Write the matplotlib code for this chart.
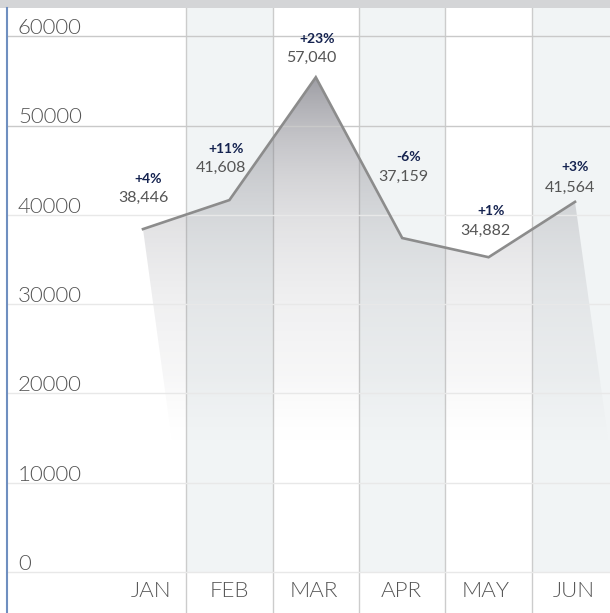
import numpy as np
import matplotlib.pyplot as plt
from matplotlib.patches import Polygon, Rectangle
from matplotlib.lines import Line2D

# datos
meses = ['JAN', 'FEB', 'MAR', 'APR', 'MAY', 'JUN']
valores_linea = [38400, 41650, 55400, 37400, 35250, 41450]
etiquetas_valor = [38446, 41608, 57040, 37159, 34882, 41564]
etiquetas_pct = ['+4%', '+11%', '+23%', '-6%', '+1%', '+3%']
marcas_y = [0, 10000, 20000, 30000, 40000, 50000, 60000]

# desplazamientos de las etiquetas en pixeles
desp_x = [0, -8, -4, 1, -3, -5]
desp_valor = [31, 32, 19, 61, 26, 14]
desp_pct = [50, 51, 38, 81, 46, 35]
desp_mes = [8, 0, -2, -1, -3, -1]

plt.rcParams['font.family'] = ['Lato', 'DejaVu Sans']

fig = plt.figure(figsize=(6.10, 6.13), dpi=100)
ax = fig.add_axes([7 / 610, 0, 603 / 610, 605 / 613])
ax.set_xlim(-1.574, 5.405)
ax.set_ylim(-4591, 63158)
ax.axis('off')

x = np.arange(len(meses))

# columnas sombreadas
for i in x:
    if i % 2 == 1:
        ax.add_patch(Rectangle((i - 0.5, 0), 1, 70000, color='#f1f4f5', lw=0, zorder=0))

# lineas horizontales
for v in marcas_y:
    col = '#c9c9c9' if v >= 50000 else '#e8e8e8'
    ax.axhline(v, color=col, lw=1, zorder=3)
    ax.text(-1.447, v + 900, str(v), ha='left', va='center', fontsize=16,
            color='#555555', fontweight=300, zorder=5)

# lineas verticales
for i in x[:-1]:
    ax.axvline(i + 0.5, color='#cccccc', lw=1, zorder=1)

# area con degradado
pts = list(zip(x, valores_linea)) + [(5.6, 0), (0.54, 0)]
poly = Polygon(pts, closed=True, facecolor='none', edgecolor='none')
ax.add_patch(poly)
n = 256
yy = np.linspace(0, 60000, n)
rampa = np.clip((yy - 14000) / 8000, 0, 1)
oscuro = 0.37 * np.exp((yy - 55000) / 13600) * rampa
alfa = np.clip(oscuro / 0.48, 0, 0.85)
grad = np.zeros((n, 1, 4))
grad[:, 0, 0] = 0.52
grad[:, 0, 1] = 0.52
grad[:, 0, 2] = 0.55
grad[:, 0, 3] = alfa
im = ax.imshow(grad, extent=[-0.2, 5.8, 0, 60000], origin='lower', aspect='auto', zorder=2)
im.set_clip_path(poly)

ax.plot(x, valores_linea, color='#8c8c8c', lw=1.9, zorder=4, solid_joinstyle='miter')

# etiquetas
for i in x:
    ax.annotate(f'{etiquetas_valor[i]:,}', (x[i], valores_linea[i]),
                xytext=(desp_x[i], desp_valor[i]), textcoords='offset pixels',
                ha='center', va='center', fontsize=11.5, color='#555555', zorder=6)
    ax.annotate(etiquetas_pct[i], (x[i], valores_linea[i]),
                xytext=(desp_x[i] + 5, desp_pct[i]), textcoords='offset pixels',
                ha='center', va='center', fontsize=10, fontweight='bold',
                color='#14224f', zorder=6)
    ax.annotate(meses[i], (x[i], -2128), xytext=(desp_mes[i], 0),
                textcoords='offset pixels', ha='center', va='center', fontsize=16,
                color='#555555', fontweight=300)

# banda superior y borde izquierdo
fig.patches.append(Rectangle((0, 605 / 613), 1, 8 / 613, transform=fig.transFigure,
                             color='#d4d5d7', lw=0))
fig.lines.append(Line2D([6.5 / 610, 6.5 / 610], [0, 605 / 613], transform=fig.transFigure,
                        color='#6f8fc0', lw=1.5))

fig.savefig('out.png', dpi=100)
